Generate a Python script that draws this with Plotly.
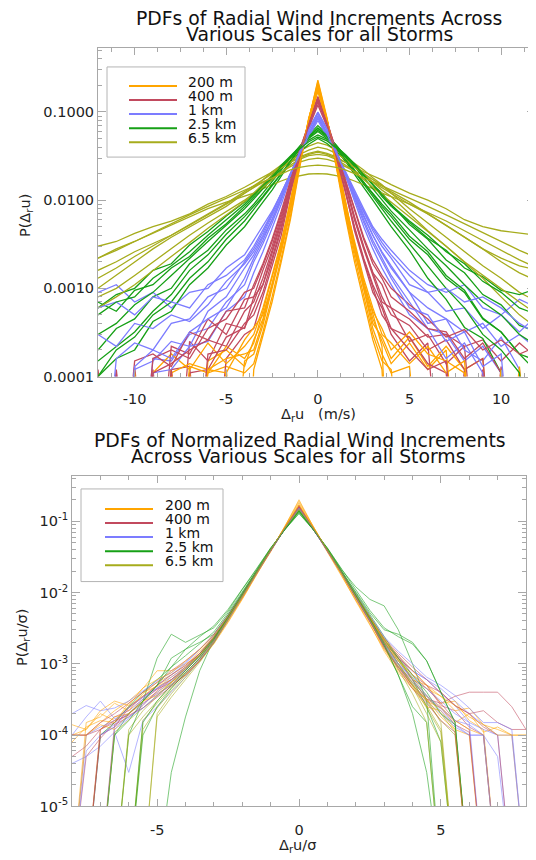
import plotly.graph_objects as go

# ---------------- data ----------------
Z = 1e-6  # empty histogram bin (falls below the plotted range)

SCALES = ["200 m", "400 m", "1 km", "2.5 km", "6.5 km"]
COLORS = ["#FFA500", "#C24A5E", "#7C7CFF", "#16A016", "#A6AC1C"]

# top panel: x = radial wind increment (m/s)
X_TOP = [-12, -11, -10, -9, -8, -7, -6, -5, -4, -3.5, -3, -2.5, -2, -1.5, -1, -0.5,
         0, 0.5, 1, 1.5, 2, 2.5, 3, 3.5, 4, 5, 6, 7, 8, 9, 10, 11, 12]
X_TOP_TICKS = [-10, -5, 0, 5, 10]
X_TOP_LABELS = ["-10", "-5", "0", "5", "10"]

P_200M = [
    [Z, Z, Z, Z, 1.2e-4, Z, 1.1e-4, 1.3e-4, 1.1e-4, 1.4e-4, 3.2e-4, 8e-4, 2.2e-3, 6.5e-3, 0.024, 0.08,
     0.23, 0.085, 0.026, 7e-3, 2.3e-3, 8e-4, 3e-4, 1.5e-4, 1.2e-4, Z, Z, Z, Z, Z, Z, Z, Z],
    [Z, Z, Z, Z, 1.2e-4, Z, 1.5e-4, 2e-4, 1.3e-4, 2.6e-4, 4.5e-4, 1.1e-3, 2.8e-3, 8e-3, 0.027, 0.082,
     0.21, 0.08, 0.028, 8.5e-3, 3e-3, 1.1e-3, 4.5e-4, 2.5e-4, 1.4e-4, 2.4e-4, 1.2e-4, 2e-4, Z, 1.1e-4, Z, Z, Z],
    [Z, Z, Z, 1.1e-4, 1.8e-4, 1.2e-4, 2.4e-4, 1.4e-4, 2.2e-4, 3e-4, 6e-4, 1.4e-3, 3.4e-3, 9.5e-3, 0.03, 0.078,
     0.19, 0.08, 0.03, 9.5e-3, 3.2e-3, 1.2e-3, 5e-4, 2.2e-4, Z, Z, Z, Z, Z, Z, Z, Z, Z],
    [Z, Z, Z, Z, Z, 1.1e-4, Z, Z, 1.5e-4, 1.8e-4, 3.8e-4, 1e-3, 2.6e-3, 7.5e-3, 0.026, 0.085,
     0.2, 0.075, 0.025, 7.5e-3, 2.6e-3, 1e-3, 4e-4, 2.8e-4, 1.6e-4, 2.8e-4, 1.3e-4, 2.2e-4, 1.2e-4, 1.6e-4, Z, 1.3e-4, Z],
    [Z, Z, Z, Z, Z, Z, 1.2e-4, 1.1e-4, 2.6e-4, 3.6e-4, 5e-4, 1.1e-3, 3e-3, 0.01, 0.031, 0.075,
     0.17, 0.075, 0.031, 0.01, 3e-3, 1.1e-3, 5.5e-4, 3.5e-4, 2e-4, 3.2e-4, 1.8e-4, 1.5e-4, 1.1e-4, Z, Z, Z, Z],
    [Z, Z, Z, Z, Z, Z, Z, 1.2e-4, Z, 1.2e-4, 2.8e-4, 7e-4, 2e-3, 6e-3, 0.023, 0.082,
     0.22, 0.083, 0.024, 6.5e-3, 2e-3, 7e-4, 2.6e-4, 1.2e-4, Z, Z, Z, Z, Z, Z, Z, Z, Z],
    [Z, Z, 1.1e-4, Z, Z, 1.3e-4, 1.1e-4, 2.2e-4, 1.6e-4, 2.4e-4, 5.5e-4, 1.3e-3, 3.2e-3, 9e-3, 0.029, 0.08,
     0.18, 0.078, 0.029, 9e-3, 3.3e-3, 1.3e-3, 6e-4, 3e-4, 2.4e-4, 1.4e-4, 2.2e-4, 1.1e-4, 1.5e-4, Z, 1.2e-4, Z, Z],
    [Z, Z, Z, Z, 1.1e-4, 1.4e-4, 1.2e-4, 1.6e-4, 1.8e-4, 2e-4, 4.2e-4, 1.05e-3, 2.7e-3, 7.8e-3, 0.027, 0.083,
     0.2, 0.082, 0.027, 8e-3, 2.8e-3, 9.5e-4, 3.5e-4, 1.8e-4, 1.1e-4, 1.3e-4, Z, Z, Z, Z, Z, Z, Z],
]
P_400M = [
    [Z, Z, Z, Z, 1.2e-4, 1.3e-4, Z, 1.6e-4, 3e-4, 3.5e-4, 8e-4, 1.8e-3, 4e-3, 0.012, 0.03, 0.075,
     0.15, 0.08, 0.032, 0.013, 4.5e-3, 2e-3, 9e-4, 6e-4, 3e-4, 1.5e-4, 2.4e-4, Z, 1.2e-4, Z, Z, Z, Z],
    [Z, Z, Z, 1.2e-4, Z, 2.5e-4, 1.5e-4, 4e-4, 3.5e-4, 8e-4, 1.1e-3, 2.5e-3, 5.5e-3, 0.014, 0.033, 0.07,
     0.13, 0.072, 0.034, 0.015, 6e-3, 2.8e-3, 1.4e-3, 7e-4, 6e-4, 2.5e-4, 3e-4, 1.4e-4, 2.2e-4, Z, 1.3e-4, Z, Z],
    [Z, Z, 1.3e-4, Z, 2.2e-4, 1.8e-4, 4.5e-4, 3e-4, 7.5e-4, 8e-4, 1.6e-3, 3e-3, 6.5e-3, 0.015, 0.034, 0.072,
     0.14, 0.075, 0.035, 0.016, 6.5e-3, 3e-3, 1.5e-3, 1.1e-3, 6e-4, 4.5e-4, 2.8e-4, 3e-4, 2.2e-4, 2.6e-4, 1.5e-4, 2.4e-4, 1.6e-4],
    [Z, Z, Z, Z, Z, 1.1e-4, 1.2e-4, 2.8e-4, 3.6e-4, 6e-4, 1.1e-3, 2.2e-3, 5e-3, 0.013, 0.031, 0.066,
     0.12, 0.068, 0.031, 0.013, 5e-3, 2.2e-3, 1.1e-3, 6.5e-4, 3.5e-4, 2.8e-4, 1.4e-4, 1.1e-4, Z, 1.2e-4, Z, Z, Z],
    [Z, 1.2e-4, Z, 1.6e-4, 2e-4, 1.6e-4, 3.5e-4, 4.5e-4, 9e-4, 1e-3, 1.8e-3, 3.4e-3, 7e-3, 0.016, 0.036, 0.074,
     0.145, 0.078, 0.036, 0.016, 7.5e-3, 3.6e-3, 1.9e-3, 1.3e-3, 8e-4, 5.5e-4, 3.5e-4, 3.2e-4, 1.6e-4, 2.4e-4, 1.1e-4, Z, Z],
    [Z, Z, Z, 1.1e-4, 1.4e-4, 2e-4, 2.6e-4, 2.2e-4, 5.5e-4, 7e-4, 1.3e-3, 2.7e-3, 6e-3, 0.0145, 0.034, 0.072,
     0.135, 0.073, 0.034, 0.015, 6.2e-3, 2.9e-3, 1.5e-3, 8e-4, 5e-4, 3.8e-4, 2e-4, 2.6e-4, 1.2e-4, 1.6e-4, Z, Z, Z],
    [1.2e-4, Z, 1.5e-4, 1.8e-4, 1.3e-4, 3.2e-4, 2.6e-4, 5.5e-4, 6e-4, 1.1e-3, 1.9e-3, 3.6e-3, 7.5e-3, 0.017, 0.037, 0.073,
     0.13, 0.074, 0.037, 0.017, 7.8e-3, 3.8e-3, 2.1e-3, 1.4e-3, 1e-3, 6.5e-4, 4.5e-4, 2.8e-4, 3.4e-4, 2e-4, 2.6e-4, 1.8e-4, 2.2e-4],
    [Z, Z, Z, Z, 1.2e-4, Z, 1.8e-4, 2e-4, 4e-4, 5e-4, 9e-4, 2e-3, 4.6e-3, 0.0125, 0.031, 0.072,
     0.14, 0.074, 0.031, 0.0125, 4.8e-3, 2.1e-3, 1e-3, 5e-4, 3.5e-4, 2e-4, 1.2e-4, 1.5e-4, Z, Z, Z, Z, Z],
]
P_1KM = [
    [Z, 1.1e-4, Z, 1.6e-4, 1.5e-4, 3e-4, 3.5e-4, 7e-4, 1.1e-3, 2e-3, 3.2e-3, 5.5e-3, 0.01, 0.019, 0.036, 0.064,
     0.1, 0.065, 0.037, 0.02, 0.011, 6e-3, 3.5e-3, 2.2e-3, 1.4e-3, 7e-4, 3.5e-4, 3e-4, 1.5e-4, 2.2e-4, 1.1e-4, Z, Z],
    [9e-4, 1.1e-3, 7e-4, 9e-4, 6e-4, 9e-4, 1e-3, 1.7e-3, 2.4e-3, 3.5e-3, 5e-3, 7.5e-3, 0.012, 0.02, 0.034, 0.057,
     0.09, 0.058, 0.035, 0.021, 0.013, 8e-3, 5e-3, 3.6e-3, 2.7e-3, 1.6e-3, 1.1e-3, 9e-4, 1.1e-3, 6e-4, 5e-4, 7.5e-4, 6e-4],
    [Z, Z, 1.2e-4, 1.5e-4, 2.5e-4, 2.2e-4, 5.5e-4, 8e-4, 1.7e-3, 2.4e-3, 3.8e-3, 6e-3, 0.0105, 0.019, 0.033, 0.055,
     0.085, 0.056, 0.034, 0.019, 0.011, 6.5e-3, 4e-3, 2.5e-3, 1.7e-3, 9e-4, 4e-4, 4.5e-4, 2e-4, 1.5e-4, 2.8e-4, 1.2e-4, Z],
    [Z, Z, Z, 1.1e-4, 1.2e-4, 2.2e-4, 2.5e-4, 5.5e-4, 8e-4, 1.5e-3, 2.6e-3, 4.8e-3, 9e-3, 0.018, 0.035, 0.062,
     0.095, 0.063, 0.036, 0.019, 9.5e-3, 5e-3, 2.8e-3, 1.7e-3, 1.1e-3, 5e-4, 3.5e-4, 1.6e-4, 2.4e-4, 1.1e-4, Z, Z, Z],
    [Z, 1.6e-4, 2.4e-4, 2e-4, 4e-4, 4.5e-4, 8e-4, 1e-3, 2e-3, 2.8e-3, 4.3e-3, 7e-3, 0.012, 0.02, 0.033, 0.052,
     0.08, 0.053, 0.034, 0.021, 0.012, 7.5e-3, 4.5e-3, 3e-3, 2.2e-3, 1.1e-3, 9e-4, 5.5e-4, 6e-4, 3.5e-4, 5e-4, 3.2e-4, 5e-4],
    [3e-4, 2.2e-4, 4e-4, 3.5e-4, 5e-4, 4.2e-4, 6.5e-4, 1.2e-3, 1.9e-3, 2.6e-3, 4e-3, 6.5e-3, 0.011, 0.0195, 0.034, 0.058,
     0.09, 0.059, 0.035, 0.02, 0.0115, 6.8e-3, 4e-3, 2.6e-3, 1.8e-3, 9e-4, 6e-4, 4.5e-4, 3.2e-4, 4e-4, 2.2e-4, 3e-4, 2e-4],
    [Z, Z, 1.3e-4, 2e-4, 1.6e-4, 3.2e-4, 4.5e-4, 6e-4, 1.3e-3, 2.2e-3, 3.5e-3, 6e-3, 0.0105, 0.0195, 0.036, 0.063,
     0.098, 0.064, 0.036, 0.0195, 0.0102, 5.6e-3, 3.2e-3, 2e-3, 1.3e-3, 6e-4, 5e-4, 2.5e-4, 3.2e-4, 1.3e-4, 1.8e-4, Z, Z],
    [6e-4, 7e-4, 5e-4, 8e-4, 7e-4, 6e-4, 1.1e-3, 1.4e-3, 2.1e-3, 3e-3, 4.6e-3, 7.2e-3, 0.0118, 0.02, 0.034, 0.055,
     0.085, 0.056, 0.034, 0.02, 0.0122, 7.6e-3, 4.8e-3, 3.3e-3, 2.4e-3, 1.4e-3, 9e-4, 1e-3, 7e-4, 8e-4, 6e-4, 4e-4, 3e-4],
]
P_2500M = [
    [2e-4, 3.5e-4, 4.5e-4, 8e-4, 1e-3, 1.9e-3, 2.7e-3, 4.6e-3, 7e-3, 9e-3, 0.012, 0.016, 0.022, 0.03, 0.041, 0.055,
     0.07, 0.056, 0.042, 0.031, 0.022, 0.016, 0.012, 8.5e-3, 6.5e-3, 3.6e-3, 2.4e-3, 1.3e-3, 9e-4, 4.5e-4, 3.2e-4, 1.8e-4, 1.5e-4],
    [6e-4, 8.5e-4, 1e-3, 1.6e-3, 1.9e-3, 3.1e-3, 4.4e-3, 6.6e-3, 9.5e-3, 0.012, 0.015, 0.019, 0.025, 0.032, 0.04, 0.05,
     0.06, 0.05, 0.041, 0.033, 0.026, 0.02, 0.015, 0.012, 9e-3, 5.3e-3, 3.6e-3, 2.1e-3, 1.5e-3, 8.5e-4, 6.5e-4, 3.8e-4, 3.2e-4],
    [1e-4, 1.6e-4, 2e-4, 4.2e-4, 5.5e-4, 1.1e-3, 1.7e-3, 3.1e-3, 5e-3, 7e-3, 9.5e-3, 0.013, 0.019, 0.027, 0.038, 0.052,
     0.065, 0.053, 0.039, 0.028, 0.02, 0.014, 0.01, 7e-3, 5e-3, 2.7e-3, 1.3e-3, 7.5e-4, 3.6e-4, 2.7e-4, 1.1e-4, Z, Z],
    [7e-4, 5.5e-4, 9.5e-4, 1.1e-3, 1.7e-3, 2.3e-3, 3.7e-3, 5.4e-3, 8.5e-3, 0.011, 0.014, 0.018, 0.024, 0.031, 0.039, 0.048,
     0.055, 0.049, 0.04, 0.032, 0.025, 0.019, 0.015, 0.011, 8.5e-3, 5.6e-3, 3.7e-3, 2.7e-3, 1.7e-3, 1.35e-3, 9.5e-4, 8.5e-4, 1e-3],
    [1.5e-4, 2.2e-4, 3.2e-4, 5.5e-4, 8.5e-4, 1.6e-3, 2.4e-3, 4.1e-3, 6.5e-3, 8.5e-3, 0.011, 0.015, 0.02, 0.027, 0.035, 0.043,
     0.05, 0.044, 0.036, 0.028, 0.021, 0.016, 0.012, 9e-3, 7e-3, 3.9e-3, 2.6e-3, 1.4e-3, 9.5e-4, 4.6e-4, 3.2e-4, 1.8e-4, 1.1e-4],
    [3e-4, 4e-4, 6.5e-4, 9e-4, 1.4e-3, 2.2e-3, 3.4e-3, 5.2e-3, 8e-3, 0.0103, 0.0135, 0.0175, 0.023, 0.031, 0.041, 0.053,
     0.066, 0.054, 0.042, 0.032, 0.024, 0.018, 0.0135, 0.01, 7.5e-3, 4.6e-3, 2.8e-3, 1.8e-3, 1.1e-3, 7e-4, 5e-4, 3e-4, 2.2e-4],
    [1e-4, 2e-4, 2.8e-4, 5e-4, 7e-4, 1.3e-3, 2e-3, 3.6e-3, 5.8e-3, 7.8e-3, 0.0105, 0.0145, 0.02, 0.028, 0.039, 0.051,
     0.062, 0.052, 0.04, 0.029, 0.021, 0.015, 0.011, 7.8e-3, 5.8e-3, 3.2e-3, 1.8e-3, 1e-3, 6e-4, 3e-4, 2e-4, 1.1e-4, Z],
    [5e-4, 7e-4, 8e-4, 1.3e-3, 1.8e-3, 2.6e-3, 4e-3, 6e-3, 9e-3, 0.0115, 0.0145, 0.0185, 0.024, 0.0305, 0.038, 0.046,
     0.052, 0.047, 0.039, 0.031, 0.025, 0.0195, 0.015, 0.0115, 8.8e-3, 5.8e-3, 4e-3, 2.6e-3, 1.9e-3, 1.2e-3, 9e-4, 6e-4, 5e-4],
]
P_6500M = [
    [1e-3, 1.4e-3, 2e-3, 2.8e-3, 3.8e-3, 5e-3, 6.5e-3, 8.5e-3, 0.012, 0.014, 0.017, 0.021, 0.025, 0.03, 0.036, 0.041,
     0.045, 0.042, 0.037, 0.031, 0.026, 0.022, 0.018, 0.015, 0.012, 8e-3, 5.5e-3, 3.8e-3, 2.6e-3, 1.8e-3, 1.3e-3, 9e-4, 7e-4],
    [3e-3, 3.4e-3, 4.2e-3, 5e-3, 5.8e-3, 7e-3, 9e-3, 0.011, 0.014, 0.016, 0.018, 0.021, 0.024, 0.027, 0.03, 0.033,
     0.035, 0.033, 0.03, 0.027, 0.024, 0.021, 0.019, 0.017, 0.015, 0.012, 0.01, 8e-3, 6e-3, 5e-3, 4.5e-3, 4.2e-3, 4e-3],
    [1.6e-3, 2e-3, 2.6e-3, 3.2e-3, 4e-3, 5.2e-3, 6.8e-3, 9e-3, 0.012, 0.014, 0.016, 0.018, 0.021, 0.024, 0.027, 0.029,
     0.03, 0.029, 0.027, 0.024, 0.021, 0.019, 0.016, 0.014, 0.012, 9e-3, 7e-3, 5.2e-3, 3.8e-3, 2.8e-3, 2.2e-3, 1.8e-3, 1.6e-3],
    [2.2e-3, 2.8e-3, 3.4e-3, 4.2e-3, 5.2e-3, 6.5e-3, 8e-3, 9.5e-3, 0.011, 0.012, 0.0135, 0.015, 0.0165, 0.018, 0.019, 0.0198,
     0.02, 0.0198, 0.019, 0.018, 0.0165, 0.015, 0.0135, 0.012, 0.011, 9e-3, 7.2e-3, 5.8e-3, 4.5e-3, 3.5e-3, 2.7e-3, 2.1e-3, 1.7e-3],
    [8e-4, 1e-3, 1.4e-3, 2e-3, 2.8e-3, 4e-3, 5.5e-3, 7.5e-3, 0.01, 0.012, 0.015, 0.019, 0.023, 0.028, 0.033, 0.037,
     0.04, 0.038, 0.034, 0.029, 0.024, 0.02, 0.016, 0.013, 0.011, 7e-3, 4.5e-3, 3e-3, 2e-3, 1.3e-3, 8e-4, 5e-4, 3.5e-4],
    [1.3e-3, 1.7e-3, 2.3e-3, 3e-3, 4e-3, 5.3e-3, 7e-3, 9.2e-3, 0.0125, 0.0145, 0.017, 0.02, 0.0235, 0.027, 0.031, 0.034,
     0.036, 0.034, 0.031, 0.027, 0.0235, 0.02, 0.017, 0.0145, 0.0125, 9.5e-3, 7e-3, 5.2e-3, 3.8e-3, 2.8e-3, 2e-3, 1.5e-3, 1.2e-3],
    [6e-4, 8e-4, 1.1e-3, 1.6e-3, 2.3e-3, 3.3e-3, 4.8e-3, 6.8e-3, 9.5e-3, 0.0115, 0.014, 0.017, 0.021, 0.025, 0.029, 0.032,
     0.033, 0.032, 0.029, 0.025, 0.021, 0.017, 0.014, 0.0115, 9.5e-3, 6.5e-3, 4.4e-3, 3e-3, 2e-3, 1.4e-3, 1e-3, 7e-4, 5e-4],
    [2.2e-3, 2.7e-3, 3.4e-3, 4.3e-3, 5.4e-3, 6.8e-3, 8.5e-3, 0.0105, 0.013, 0.0145, 0.016, 0.018, 0.02, 0.022, 0.0235, 0.0245,
     0.025, 0.0245, 0.0235, 0.022, 0.02, 0.018, 0.016, 0.0145, 0.013, 0.0105, 8.5e-3, 6.8e-3, 5.4e-3, 4.3e-3, 3.4e-3, 2.7e-3, 2.2e-3],
]

# bottom panel: x = normalized increment (units of sigma)
X_NORM = [-8, -7.5, -7, -6.5, -6, -5.5, -5, -4.5, -4, -3.5, -3, -2.5, -2, -1.5, -1, -0.5,
          0, 0.5, 1, 1.5, 2, 2.5, 3, 3.5, 4, 4.5, 5, 5.5, 6, 6.5, 7, 7.5, 8]
X_NORM_TICKS = [-5, 0, 5]
X_NORM_LABELS = ["-5", "0", "5"]

N_200M = [
    [1e-4, 1.2e-4, 2e-4, 1.6e-4, 2.5e-4, 3.5e-4, 5e-4, 6.5e-4, 9e-4, 1.4e-3, 2.2e-3, 4.2e-3, 8.4e-3, 0.018, 0.038, 0.085,
     0.19, 0.085, 0.038, 0.018, 8e-3, 3.8e-3, 1.8e-3, 9e-4, 5.5e-4, 3.5e-4, 2.5e-4, 1.5e-4, 2e-4, 1.1e-4, 1.3e-4, 1e-4, 1e-4],
    [Z, 1.5e-4, 1.8e-4, 2.8e-4, 2.2e-4, 3.8e-4, 5.5e-4, 7e-4, 9.5e-4, 1.5e-3, 2.4e-3, 4.4e-3, 8.8e-3, 0.019, 0.039, 0.082,
     0.17, 0.082, 0.039, 0.019, 8.6e-3, 4.2e-3, 2.1e-3, 1.2e-3, 6e-4, 5e-4, 2.8e-4, 3e-4, 1.6e-4, 1.2e-4, Z, Z, Z],
    [1e-4, 1e-4, 1.5e-4, 2.2e-4, 3e-4, 4.5e-4, 8e-4, 8e-4, 1e-3, 1.3e-3, 2e-3, 4e-3, 8.2e-3, 0.018, 0.037, 0.08,
     0.16, 0.08, 0.037, 0.017, 7.8e-3, 3.6e-3, 1.5e-3, 7.5e-4, 4.5e-4, 2.5e-4, 2.2e-4, 1.2e-4, 1e-4, Z, Z, Z, Z],
    [Z, Z, 1.2e-4, 1.8e-4, 2e-4, 3e-4, 4e-4, 5.5e-4, 7.5e-4, 1.2e-3, 2e-3, 3.9e-3, 8.3e-3, 0.018, 0.039, 0.083,
     0.18, 0.083, 0.039, 0.0185, 8.6e-3, 4.1e-3, 2e-3, 1.1e-3, 7e-4, 4.5e-4, 3.5e-4, 2.2e-4, 2.4e-4, 1.4e-4, 1.2e-4, 1e-4, Z],
    [8e-5, 1.3e-4, 1.6e-4, 1.5e-4, 2.8e-4, 4e-4, 4.8e-4, 6e-4, 8.5e-4, 1.3e-3, 2.1e-3, 4.2e-3, 8.6e-3, 0.019, 0.04, 0.081,
     0.165, 0.081, 0.04, 0.019, 8.5e-3, 4e-3, 1.6e-3, 9e-4, 4.5e-4, 3.2e-4, 1.8e-4, 1.2e-4, Z, Z, Z, Z, Z],
    [Z, 1e-4, 1.4e-4, 1.2e-4, 2e-4, 3e-4, 3.6e-4, 5.2e-4, 7e-4, 1.1e-3, 1.9e-3, 3.8e-3, 8e-3, 0.0175, 0.038, 0.084,
     0.2, 0.084, 0.038, 0.0175, 7.6e-3, 3.5e-3, 1.6e-3, 8e-4, 5e-4, 3e-4, 2.4e-4, 1.6e-4, 1.2e-4, 1e-4, Z, Z, Z],
    [1.4e-4, 1.2e-4, 2.2e-4, 3e-4, 2.6e-4, 4.6e-4, 6e-4, 7.5e-4, 1.1e-3, 1.6e-3, 2.5e-3, 4.6e-3, 9e-3, 0.0185, 0.039, 0.082,
     0.17, 0.082, 0.039, 0.0185, 8.8e-3, 4.4e-3, 2.2e-3, 1.3e-3, 8e-4, 5e-4, 3.5e-4, 2.6e-4, 1.8e-4, 1.4e-4, 1e-4, 1e-4, 1e-4],
]
N_400M = [
    [1e-4, 1e-4, 1.2e-4, 1.5e-4, 2.5e-4, 3.5e-4, 4.5e-4, 6e-4, 8.5e-4, 1.3e-3, 2.3e-3, 4.5e-3, 9.2e-3, 0.019, 0.04, 0.08,
     0.16, 0.08, 0.04, 0.019, 8.8e-3, 4.2e-3, 1.9e-3, 1.1e-3, 6e-4, 4.5e-4, 2.8e-4, 3.5e-4, 4e-4, 4e-4, 4e-4, 2.5e-4, 1.2e-4],
    [5e-5, 7e-5, 1.2e-4, 1.8e-4, 2.2e-4, 3.2e-4, 4.4e-4, 5.5e-4, 8e-4, 1.3e-3, 2.2e-3, 4.4e-3, 9e-3, 0.019, 0.039, 0.078,
     0.155, 0.078, 0.039, 0.019, 8.5e-3, 4e-3, 1.8e-3, 9e-4, 6e-4, 3.2e-4, 2.8e-4, 1.6e-4, 1.2e-4, Z, Z, Z, Z],
    [Z, 5e-5, 9e-5, 1.5e-4, 2e-4, 2.8e-4, 3.8e-4, 5e-4, 7e-4, 1.1e-3, 2e-3, 4.2e-3, 8.8e-3, 0.019, 0.04, 0.08,
     0.15, 0.08, 0.04, 0.019, 9e-3, 4.4e-3, 2.2e-3, 1.3e-3, 7e-4, 5e-4, 2.6e-4, 2.2e-4, 1.3e-4, 1e-4, Z, Z, Z],
    [Z, Z, 1e-4, 1.3e-4, 2.4e-4, 3.4e-4, 5e-4, 7e-4, 9.5e-4, 1.4e-3, 2.4e-3, 4.6e-3, 9.3e-3, 0.019, 0.039, 0.079,
     0.158, 0.079, 0.039, 0.019, 8.6e-3, 4e-3, 1.7e-3, 9e-4, 5e-4, 3.2e-4, 2.4e-4, 1.4e-4, 1.1e-4, Z, Z, Z, Z],
    [Z, Z, Z, 1.4e-4, 1.8e-4, 2.6e-4, 4.2e-4, 6e-4, 9e-4, 1.4e-3, 2.3e-3, 4.5e-3, 9e-3, 0.0185, 0.039, 0.08,
     0.165, 0.08, 0.039, 0.0185, 8.7e-3, 4.2e-3, 2e-3, 1.2e-3, 8e-4, 5e-4, 4e-4, 2.6e-4, 2e-4, 1.3e-4, 1e-4, Z, Z],
    [1e-4, 1e-4, 1.5e-4, 2e-4, 2.8e-4, 4e-4, 5.5e-4, 8e-4, 1.1e-3, 1.6e-3, 2.6e-3, 4.8e-3, 9.4e-3, 0.0195, 0.04, 0.079,
     0.155, 0.079, 0.04, 0.0195, 9e-3, 4.5e-3, 2.3e-3, 1.4e-3, 9e-4, 6e-4, 4e-4, 2.6e-4, 2e-4, 2.2e-4, 1.5e-4, 1.2e-4, 1.2e-4],
    [Z, Z, 1.2e-4, 1.6e-4, 1.9e-4, 2.4e-4, 3.4e-4, 4.8e-4, 7e-4, 1.1e-3, 2e-3, 4.1e-3, 8.7e-3, 0.0185, 0.039, 0.079,
     0.16, 0.079, 0.039, 0.0185, 8.4e-3, 3.9e-3, 1.7e-3, 8.5e-4, 4.5e-4, 2.8e-4, 1.6e-4, 1.1e-4, Z, Z, Z, Z, Z],
]
N_1KM = [
    [1e-4, 1.8e-4, 3e-4, 1.7e-4, 2e-4, 3e-4, 4.5e-4, 6.5e-4, 9e-4, 1.4e-3, 2.3e-3, 4.5e-3, 9e-3, 0.019, 0.039, 0.078,
     0.15, 0.078, 0.039, 0.019, 9e-3, 4.4e-3, 2e-3, 1.2e-3, 8e-4, 6e-4, 4.5e-4, 3e-4, 2e-4, 1.4e-4, 1e-4, Z, Z],
    [4e-5, 5e-5, 7e-5, 1.1e-4, 3e-5, 1.6e-4, 2.5e-4, 4e-4, 6.5e-4, 1.1e-3, 2e-3, 4.2e-3, 8.8e-3, 0.019, 0.04, 0.08,
     0.152, 0.08, 0.04, 0.019, 8.5e-3, 4e-3, 1.8e-3, 9e-4, 5e-4, 3e-4, 2e-4, 1.3e-4, 1e-4, 1e-4, Z, Z, Z],
    [Z, Z, 1e-4, 1.4e-4, 2e-4, 3.2e-4, 5e-4, 7e-4, 1e-3, 1.6e-3, 2.5e-3, 4.8e-3, 9.5e-3, 0.0195, 0.04, 0.079,
     0.148, 0.079, 0.04, 0.0195, 9.2e-3, 4.5e-3, 2.1e-3, 1.3e-3, 8e-4, 6e-4, 3.8e-4, 2.6e-4, 1.5e-4, Z, Z, Z, Z],
    [Z, 1e-4, 1.3e-4, 1.6e-4, 2.4e-4, 3.4e-4, 4.6e-4, 6e-4, 8.5e-4, 1.3e-3, 2.2e-3, 4.4e-3, 9e-3, 0.019, 0.039, 0.078,
     0.15, 0.078, 0.039, 0.019, 8.8e-3, 4.1e-3, 1.8e-3, 9e-4, 5.5e-4, 3.5e-4, 2.2e-4, 1.4e-4, 1e-4, 1e-4, 5e-5, Z, Z],
    [Z, Z, Z, 1.2e-4, 1.7e-4, 2.7e-4, 4e-4, 5.8e-4, 8.2e-4, 1.25e-3, 2.1e-3, 4.3e-3, 9e-3, 0.019, 0.039, 0.079,
     0.155, 0.079, 0.039, 0.019, 8.6e-3, 4e-3, 1.9e-3, 1e-3, 6.5e-4, 4.5e-4, 3e-4, 2e-4, 1.5e-4, 1.2e-4, 1e-4, 1e-4, Z],
    [2e-4, 2.6e-4, 2.2e-4, 2.4e-4, 3e-4, 4.2e-4, 5.8e-4, 7.5e-4, 1.05e-3, 1.6e-3, 2.5e-3, 4.7e-3, 9.3e-3, 0.0195, 0.04, 0.078,
     0.148, 0.078, 0.04, 0.0195, 9.4e-3, 4.7e-3, 2.4e-3, 1.5e-3, 1e-3, 6.5e-4, 5e-4, 3.6e-4, 2.4e-4, 1.5e-4, 1.5e-4, 1.2e-4, Z],
    [Z, 6e-5, 1e-4, 1.3e-4, 1.8e-4, 2.4e-4, 3.6e-4, 5.2e-4, 7.4e-4, 1.15e-3, 2e-3, 4.1e-3, 8.7e-3, 0.0188, 0.039, 0.079,
     0.153, 0.079, 0.039, 0.0188, 8.7e-3, 4.1e-3, 1.9e-3, 1e-3, 6e-4, 3.6e-4, 2.4e-4, 1.6e-4, 1.4e-4, 1e-4, Z, Z, Z],
]
N_2500M = [
    [Z, Z, Z, Z, Z, Z, Z, 3e-5, 1.8e-4, 8e-4, 2.2e-3, 4.8e-3, 9.8e-3, 0.02, 0.041, 0.077,
     0.135, 0.077, 0.041, 0.02, 9.8e-3, 5e-3, 2.4e-3, 1.2e-3, 6e-4, 2.5e-4, 8e-5, Z, Z, Z, Z, Z, Z],
    [Z, Z, Z, Z, 1e-4, 3e-4, 1.2e-3, 2.6e-3, 2e-3, 2.5e-3, 3.2e-3, 5.5e-3, 0.011, 0.021, 0.042, 0.076,
     0.13, 0.077, 0.042, 0.021, 0.012, 8e-3, 6.5e-3, 3e-3, 1e-3, 3e-4, Z, Z, Z, Z, Z, Z, Z],
    [Z, Z, 1e-4, 1.5e-4, 2.5e-4, 4e-4, 6e-4, 9e-4, 1.3e-3, 1.9e-3, 2.8e-3, 5.2e-3, 0.0102, 0.02, 0.041, 0.076,
     0.14, 0.076, 0.041, 0.02, 0.0102, 5.2e-3, 3e-3, 2.6e-3, 2e-3, 1.1e-3, 4e-4, 1.5e-4, Z, Z, Z, Z, Z],
    [Z, Z, Z, 1e-4, 2e-4, 3e-4, 5e-4, 1.2e-3, 1.6e-3, 2e-3, 2.6e-3, 4.9e-3, 9.6e-3, 0.02, 0.04, 0.077,
     0.138, 0.077, 0.04, 0.02, 9.5e-3, 4.6e-3, 2.2e-3, 1.2e-3, 7e-4, 4e-4, 2e-4, 1.4e-4, Z, Z, Z, Z, Z],
    [Z, Z, Z, Z, Z, 1.5e-4, 3e-4, 5e-4, 8e-4, 1.3e-3, 2.3e-3, 4.6e-3, 9.3e-3, 0.0195, 0.04, 0.078,
     0.142, 0.078, 0.04, 0.0195, 9e-3, 4.2e-3, 1.8e-3, 7e-4, 2e-4, 3e-5, Z, Z, Z, Z, Z, Z, Z],
    [Z, Z, Z, 1e-4, 1.6e-4, 3e-4, 5e-4, 9e-4, 1.6e-3, 2.4e-3, 3.4e-3, 5.8e-3, 0.011, 0.0215, 0.042, 0.076,
     0.128, 0.076, 0.042, 0.0215, 0.0108, 5.6e-3, 3.2e-3, 2.4e-3, 1.9e-3, 1.1e-3, 4e-4, 1.5e-4, Z, Z, Z, Z, Z],
    [Z, Z, Z, Z, Z, 1e-4, 2.5e-4, 4.5e-4, 7.5e-4, 1.2e-3, 2.2e-3, 4.5e-3, 9.2e-3, 0.0195, 0.04, 0.077,
     0.14, 0.077, 0.04, 0.0195, 9.2e-3, 4.3e-3, 1.9e-3, 7e-4, 2.5e-4, 1.5e-4, Z, Z, Z, Z, Z, Z, Z],
]
N_6500M = [
    [Z, Z, Z, Z, 1.2e-4, 2.2e-4, 3.5e-4, 5.5e-4, 8.5e-4, 1.4e-3, 2.4e-3, 4.7e-3, 9.4e-3, 0.0195, 0.04, 0.078,
     0.145, 0.078, 0.04, 0.0195, 9.2e-3, 4.4e-3, 2e-3, 1e-3, 5.5e-4, 3e-4, 1.6e-4, 1e-4, Z, Z, Z, Z, Z],
    [Z, Z, Z, Z, Z, 1.6e-4, 2.8e-4, 4.6e-4, 7.5e-4, 1.2e-3, 2.1e-3, 4.3e-3, 9e-3, 0.019, 0.04, 0.079,
     0.15, 0.079, 0.04, 0.019, 8.9e-3, 4.2e-3, 1.9e-3, 9.5e-4, 5e-4, 2.4e-4, 1.1e-4, Z, Z, Z, Z, Z, Z],
    [Z, Z, Z, Z, Z, Z, 2e-4, 3.8e-4, 6.5e-4, 1.1e-3, 2e-3, 4.2e-3, 9e-3, 0.019, 0.04, 0.08,
     0.148, 0.08, 0.04, 0.019, 9e-3, 4.3e-3, 2e-3, 1e-3, 4.8e-4, 2e-4, 8e-5, Z, Z, Z, Z, Z, Z],
    [Z, Z, Z, Z, 1e-4, 1.8e-4, 3e-4, 5e-4, 8e-4, 1.3e-3, 2.3e-3, 4.5e-3, 9.2e-3, 0.0192, 0.04, 0.078,
     0.142, 0.078, 0.04, 0.0192, 9.3e-3, 4.6e-3, 2.2e-3, 1.1e-3, 6e-4, 3.2e-4, 1.5e-4, Z, Z, Z, Z, Z, Z],
    [Z, Z, Z, Z, Z, 1.2e-4, 2.4e-4, 4.2e-4, 7e-4, 1.15e-3, 2.1e-3, 4.4e-3, 9.1e-3, 0.019, 0.04, 0.079,
     0.146, 0.079, 0.04, 0.019, 9.1e-3, 4.4e-3, 2.1e-3, 1e-3, 5.2e-4, 2.6e-4, 1.2e-4, Z, Z, Z, Z, Z, Z],
    [Z, Z, Z, 1.1e-4, 1.6e-4, 2.4e-4, 3.6e-4, 5.6e-4, 8.6e-4, 1.35e-3, 2.3e-3, 4.6e-3, 9.3e-3, 0.0195, 0.04, 0.078,
     0.143, 0.078, 0.04, 0.0195, 9.4e-3, 4.6e-3, 2.2e-3, 1.15e-3, 6.5e-4, 3.6e-4, 2e-4, 1.1e-4, Z, Z, Z, Z, Z],
    [Z, Z, Z, Z, Z, Z, 1.8e-4, 3.4e-4, 6e-4, 1.05e-3, 1.95e-3, 4.1e-3, 8.8e-3, 0.0188, 0.04, 0.08,
     0.15, 0.08, 0.04, 0.0188, 8.8e-3, 4.1e-3, 1.85e-3, 8.5e-4, 3.8e-4, 1.5e-4, Z, Z, Z, Z, Z, Z, Z],
]

TOP_SETS = [P_200M, P_400M, P_1KM, P_2500M, P_6500M]
NORM_SETS = [N_200M, N_400M, N_1KM, N_2500M, N_6500M]

TOP_TITLE = ["PDFs of Radial Wind Increments Across", "Various Scales for all Storms"]
BOT_TITLE = ["PDFs of Normalized Radial Wind Increments", "Across Various Scales for all Storms"]

# ---------------- figure ----------------
OFF = 8                      # the page body adds an 8 px margin
W, H = 536 - OFF, 860 - OFF  # figure size so that it ends at the window edge
FONT = "DejaVu Sans"
AXCOL = "#A8A8A8"


def px(x):  # window pixel -> paper fraction
    return (x - OFF) / W


def py(y):
    return 1 - (y - OFF) / H


fig = go.Figure()

for s in range(len(P_200M)):
    for k, name in enumerate(SCALES):
        fig.add_trace(go.Scatter(
            x=X_TOP, y=TOP_SETS[k][s], mode="lines", name=name,
            line=dict(color=COLORS[k], width=1.3), showlegend=False,
            xaxis="x", yaxis="y", hoverinfo="skip"))
for s in range(len(N_200M)):
    for k, name in enumerate(SCALES):
        fig.add_trace(go.Scatter(
            x=X_NORM, y=NORM_SETS[k][s], mode="lines", name=name,
            line=dict(color=COLORS[k], width=0.8), opacity=0.7, showlegend=False,
            xaxis="x2", yaxis="y2", hoverinfo="skip"))

tickfont = dict(family=FONT, size=14.5, color="#222222")
common = dict(showline=True, linecolor=AXCOL, linewidth=1, mirror="ticks",
              ticks="inside", tickcolor=AXCOL, showgrid=False, zeroline=False,
              tickfont=tickfont)

fig.update_layout(
    width=W, height=H, margin=dict(l=0, r=0, t=0, b=0),
    paper_bgcolor="white", plot_bgcolor="white", showlegend=False,
    xaxis=dict(domain=[px(98), px(535)], range=[-12, 11.85], anchor="y",
               tickmode="array", tickvals=X_TOP_TICKS, ticktext=X_TOP_LABELS, ticklen=7,
               ticklabelstandoff=9,
               minor=dict(ticks="inside", dtick=1.25, tick0=0, ticklen=4, tickcolor=AXCOL),
               **common),
    yaxis=dict(domain=[py(380), py(48)], type="log", range=[-4, -0.27], anchor="x",
               tickmode="array", tickvals=[1e-4, 1e-3, 1e-2, 1e-1],
               ticktext=["0.0001", "0.0010", "0.0100", "0.1000"], ticklen=8,
               minor=dict(ticks="inside", dtick="D1", ticklen=4, tickcolor=AXCOL),
               **common),
    xaxis2=dict(domain=[px(72), px(526)], range=[-8, 8], anchor="y2",
                tickmode="array", tickvals=X_NORM_TICKS, ticktext=X_NORM_LABELS, ticklen=7,
                ticklabelstandoff=10,
                minor=dict(ticks="inside", dtick=1, tick0=0, ticklen=4, tickcolor=AXCOL),
                **common),
    yaxis2=dict(domain=[py(814), py(480)], type="log", range=[-5, -0.36], anchor="x2",
                tickmode="array", tickvals=[1e-5, 1e-4, 1e-3, 1e-2, 1e-1],
                ticktext=["10<sup>-5</sup>", "10<sup>-4</sup>", "10<sup>-3</sup>",
                          "10<sup>-2</sup>", "10<sup>-1</sup>"], ticklen=8,
                minor=dict(ticks="inside", dtick="D1", ticklen=4, tickcolor=AXCOL),
                **common),
)

ann = []
tfont = dict(family=FONT, size=18.8, color="#111111")
for txt, yc, xc in [(TOP_TITLE[0], 18.5, 319), (TOP_TITLE[1], 35, 319),
                    (BOT_TITLE[0], 444.5, 299.5), (BOT_TITLE[1], 460.5, 298)]:
    ann.append(dict(text=txt, x=px(xc), y=py(yc), xref="paper", yref="paper",
                    xanchor="center", yanchor="middle", showarrow=False, font=tfont))

afont = dict(family=FONT, size=14.5, color="#222222")
ann.append(dict(text="\u0394<sub>r</sub>u\u00a0\u00a0\u00a0(m/s)", x=px(318), y=py(419),
                xref="paper", yref="paper", xanchor="center", yanchor="middle",
                showarrow=False, font=afont))
ann.append(dict(text="\u0394<sub>r</sub>u/\u03c3", x=px(297), y=py(853.5),
                xref="paper", yref="paper", xanchor="center", yanchor="middle",
                showarrow=False, font=afont))
ann.append(dict(text="P(\u0394<sub>r</sub>u)", x=px(26), y=py(218),
                xref="paper", yref="paper", xanchor="center", yanchor="middle",
                showarrow=False, font=afont, textangle=-90))
ann.append(dict(text="P(\u0394<sub>r</sub>u/\u03c3)", x=px(23), y=py(644),
                xref="paper", yref="paper", xanchor="center", yanchor="middle",
                showarrow=False, font=afont, textangle=-90))

shapes = []
lfont = dict(family=FONT, size=14, color="#111111")
# legends (box, sample line, label) for both panels
for box, x0, x1, xt, y0 in [((107, 67.5, 245, 158.5), 129, 177, 186, 86.7),
                            ((81, 493.5, 223, 587), 105, 153, 163, 513.7)]:
    shapes.append(dict(type="rect", xref="paper", yref="paper",
                       x0=px(box[0]), x1=px(box[2]), y0=py(box[3]), y1=py(box[1]),
                       line=dict(color="#B4B4B4", width=1), fillcolor="white", layer="above"))
    for k, name in enumerate(SCALES):
        yy = y0 + 14.2 * k
        shapes.append(dict(type="line", xref="paper", yref="paper",
                           x0=px(x0), x1=px(x1), y0=py(yy), y1=py(yy),
                           line=dict(color=COLORS[k], width=2), layer="above"))
        ann.append(dict(text=name, x=px(xt), y=py(yy - 4), xref="paper", yref="paper",
                        xanchor="left", yanchor="middle", showarrow=False, font=lfont))

fig.update_layout(annotations=ann, shapes=shapes)
fig.write_html("out.html")
